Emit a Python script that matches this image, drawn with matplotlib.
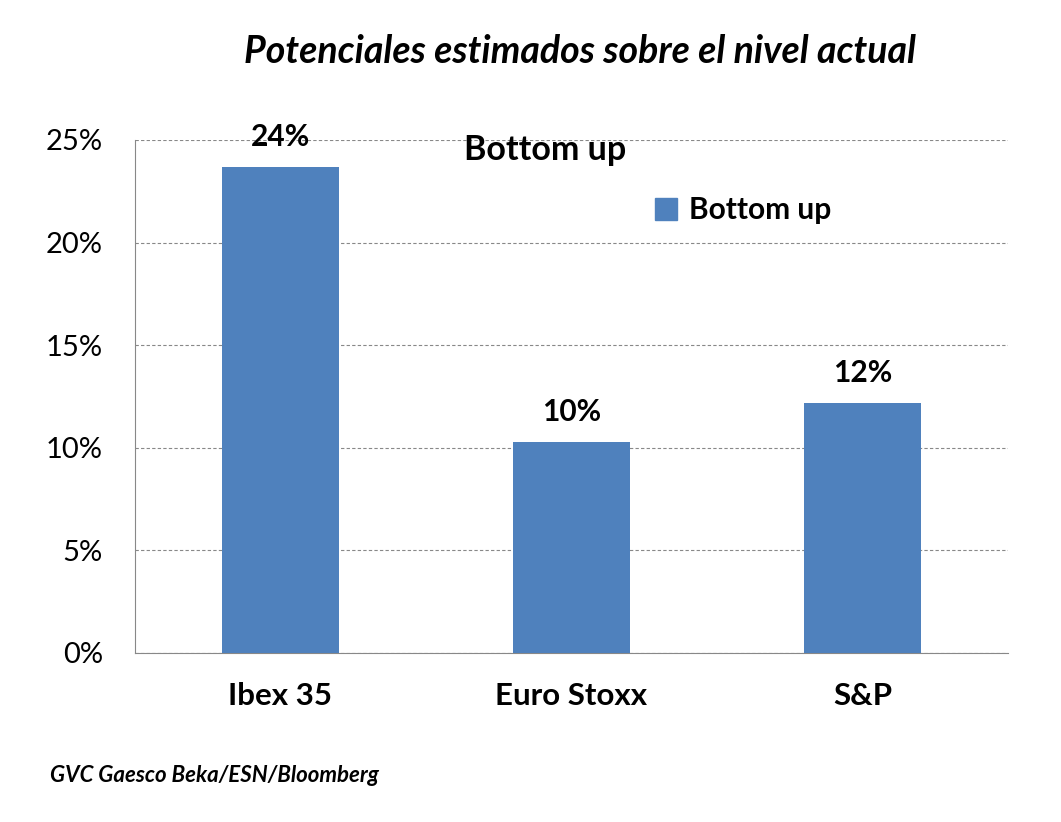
import numpy as np
import matplotlib.pyplot as plt
from matplotlib.ticker import FuncFormatter
from matplotlib.patches import Patch

plt.rcParams['font.family'] = ['Lato', 'DejaVu Sans']

#categories and values (in %)
categories = ["Ibex 35", "Euro Stoxx", "S&P"]
values = [23.7, 10.3, 12.2]
value_labels = ["24%", "10%", "12%"]
yticks = [0, 5, 10, 15, 20, 25]

fig = plt.figure(figsize=(10.61, 8.22), dpi=100)
ax = fig.add_axes([0.1272, 0.2056, 0.8228, 0.6241])

x = np.arange(len(categories))
bars = ax.bar(x, values, width=0.40, color="#4f81bd", zorder=3)

#value labels above bars
for xi, v, lab in zip(x, values, value_labels):
    ax.text(xi, v + 0.75, lab, ha="center", va="bottom",
            fontsize=21.5, fontweight="bold", zorder=4)

ax.set_xlim(-0.5, 2.5)
ax.set_ylim(0, 25)
ax.set_yticks(yticks)
ax.yaxis.set_major_formatter(FuncFormatter(lambda v, p: "%d%%" % v))
ax.set_xticks(x)
ax.set_xticklabels(categories, fontsize=22.5, fontweight="bold")
ax.tick_params(axis="y", labelsize=21, length=0, pad=23)
ax.tick_params(axis="x", length=0, pad=21)

ax.grid(axis="y", color="#888888", linestyle=(0, (3, 2)), linewidth=0.8, zorder=0)
ax.spines["top"].set_visible(False)
ax.spines["right"].set_visible(False)
ax.spines["left"].set_color("#888888")
ax.spines["bottom"].set_color("#888888")

#series title inside chart
ax.text(0.909, 24.5, "Bottom up", ha="center", va="center",
        fontsize=24.5, fontweight="bold")

#legend
leg = ax.legend(handles=[Patch(color="#4f81bd", label="Bottom up")],
                loc="upper left", bbox_to_anchor=(0.565, 0.943), frameon=False,
                prop={"size": 21.5, "weight": "bold"}, handlelength=0.75,
                handleheight=0.75, handletextpad=0.4)

fig.text(0.547, 0.937, "Potenciales estimados sobre el nivel actual",
         ha="center", va="center", fontsize=27, fontweight="bold", style="italic")
fig.text(0.047, 0.057, "GVC Gaesco Beka/ESN/Bloomberg",
         ha="left", va="center", fontsize=16, fontweight="bold", style="italic")

plt.savefig("out.png", dpi=100)
